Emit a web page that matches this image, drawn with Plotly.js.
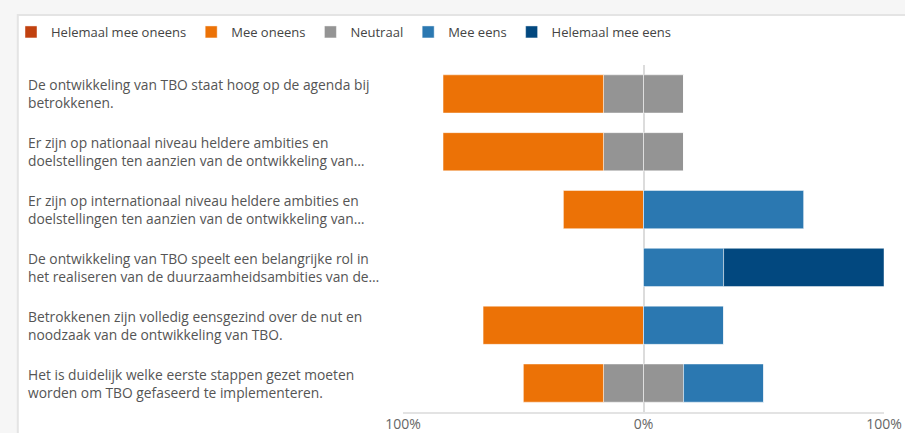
<!DOCTYPE html>
<html>
<head>
<meta charset="utf-8">
<script src="https://cdn.plot.ly/plotly-3.0.1.min.js"></script>
<style>
  html, body { margin: 0; padding: 0; background: #f6f6f6; }
  #chart { width: 905px; height: 433px; }
</style>
</head>
<body>
<div id="chart"></div>
<script>
// ---- Data ----
const categories = [
  "De ontwikkeling van TBO staat hoog op de agenda bij<br>betrokkenen.",
  "Er zijn op nationaal niveau heldere ambities en<br>doelstellingen ten aanzien van de ontwikkeling van\u2026",
  "Er zijn op internationaal niveau heldere ambities en<br>doelstellingen ten aanzien van de ontwikkeling van\u2026",
  "De ontwikkeling van TBO speelt een belangrijke rol in<br>het realiseren van de duurzaamheidsambities van de\u2026",
  "Betrokkenen zijn volledig eensgezind over de nut en<br>noodzaak van de ontwikkeling van TBO.",
  "Het is duidelijk welke eerste stappen gezet moeten<br>worden om TBO gefaseerd te implementeren."
];
const helemaalOneens = [0, 0, 0, 0, 0, 0];
const meeOneens      = [66.7, 66.7, 33.3, 0, 66.7, 33.3];
const neutraal       = [33.3, 33.3, 0, 0, 0, 33.3];
const meeEens        = [0, 0, 66.7, 33.3, 33.3, 33.3];
const helemaalEens   = [0, 0, 0, 66.7, 0, 0];

const tickVals = [-100, 0, 100];
const tickText = ["100%", "0%", "100%"];

const colors = {
  helemaalOneens: "#c1410f",
  meeOneens: "#ec7206",
  neutraal: "#949494",
  meeEens: "#2b78b1",
  helemaalEens: "#02487f"
};

const FONT = "'Segoe UI', 'Open Sans', sans-serif";
const lineStyle = { color: "rgba(255,255,255,0.45)", width: 1 };

function bar(name, x, color, rank, showlegend, group) {
  return {
    type: "bar", orientation: "h", name: name, x: x, y: categories,
    marker: { color: color, line: lineStyle },
    legendrank: rank, showlegend: showlegend, legendgroup: group,
    hoverinfo: "skip"
  };
}

const neg = a => a.map(v => -v / 2);
const negFull = a => a.map(v => -v);
const half = a => a.map(v => v / 2);

const traces = [
  // negative side, stacked outward from zero
  bar("Neutraal", neg(neutraal), colors.neutraal, 3, false, "neu"),
  bar("Mee oneens", negFull(meeOneens), colors.meeOneens, 2, true, "mo"),
  bar("Helemaal mee oneens", negFull(helemaalOneens), colors.helemaalOneens, 1, true, "hmo"),
  // positive side
  bar("Neutraal", half(neutraal), colors.neutraal, 3, true, "neu"),
  bar("Mee eens", meeEens, colors.meeEens, 4, true, "me"),
  bar("Helemaal mee eens", helemaalEens, colors.helemaalEens, 5, true, "hme")
];

// pixel helpers for layout (plot area 402..884 x, 65..412 y)
const L = 402, R = 21, T = 65, B = 21, W = 905, H = 433;
const pw = W - L - R, ph = H - T - B;
const px = x => (x - L) / pw;
const py = y => (H - B - y) / ph;

const annotations = categories.map(c => ({
  xref: "paper", yref: "y", x: px(24), y: c, text: c,
  xanchor: "left", yanchor: "middle", align: "left", showarrow: false,
  font: { family: FONT, size: 13.8, color: "#555555" }
}));

const layout = {
  width: W, height: H,
  margin: { l: L, r: R, t: T, b: B, pad: 0 },
  paper_bgcolor: "#f6f6f6",
  plot_bgcolor: "rgba(0,0,0,0)",
  barmode: "relative",
  bargap: 0.34,
  font: { family: FONT, size: 14, color: "#555555" },
  xaxis: {
    range: [-100, 100], tickvals: tickVals, ticktext: tickText,
    showgrid: true, gridcolor: "#e3e3e3", gridwidth: 2,
    zeroline: true, zerolinecolor: "#dcdcdc", zerolinewidth: 2,
    showline: true, linecolor: "#e3e3e3", linewidth: 2,
    ticks: "", ticklabelstandoff: -2,
    tickfont: { family: FONT, size: 14, color: "#666666" },
    fixedrange: true
  },
  yaxis: {
    autorange: "reversed", showticklabels: false, showgrid: false,
    zeroline: false, showline: false, ticks: "", fixedrange: true
  },
  showlegend: true,
  legend: {
    orientation: "h", x: px(11), xanchor: "left", y: py(32), yanchor: "middle",
    font: { family: FONT, size: 13, color: "#444444" },
    bgcolor: "rgba(0,0,0,0)", traceorder: "normal"
  },
  shapes: [{
    type: "rect", layer: "below", xref: "paper", yref: "paper",
    x0: px(16), x1: px(910), y0: py(15), y1: py(440),
    fillcolor: "#ffffff", line: { color: "#e4e4e4", width: 2 }
  }],
  annotations: annotations
};

Plotly.newPlot("chart", traces, layout, { displayModeBar: false, staticPlot: true });
</script>
</body>
</html>
